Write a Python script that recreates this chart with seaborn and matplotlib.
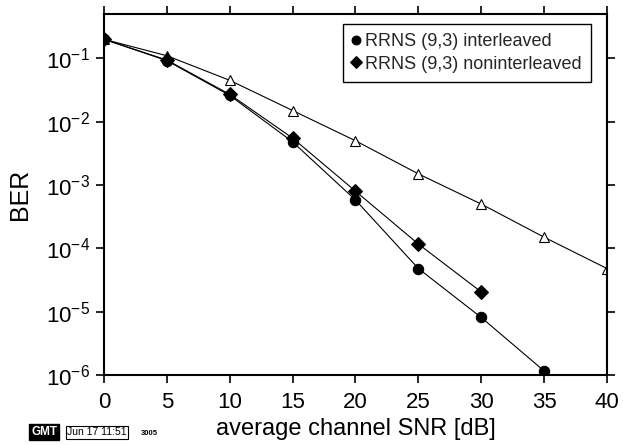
import matplotlib
matplotlib.use("Agg")
import matplotlib.pyplot as plt
import seaborn as sns
import numpy as np

sns.set_theme(style="ticks")
plt.rcParams['font.family'] = ['Liberation Sans', 'DejaVu Sans']
plt.rcParams['mathtext.fontset'] = 'custom'
plt.rcParams['mathtext.rm'] = 'Liberation Sans'
plt.rcParams['axes.unicode_minus'] = False

snr = [0, 5, 10, 15, 20, 25, 30, 35, 40]
ber_uncoded = [0.2, 0.11, 0.045, 0.015, 0.005, 0.0015, 0.0005, 0.00015, 0.000048]
snr_inter = [0, 5, 10, 15, 20, 25, 30, 35]
ber_inter = [0.2, 0.092, 0.026, 0.0048, 0.00058, 0.000048, 0.0000081, 0.00000116]
snr_noninter = [0, 5, 10, 15, 20, 25, 30]
ber_noninter = [0.2, 0.094, 0.027, 0.0055, 0.0008, 0.000117, 0.0000205]

label_inter = "RRNS (9,3) interleaved"
label_noninter = "RRNS (9,3) noninterleaved"

fig = plt.figure(figsize=(6.23, 4.45), dpi=100)
ax = fig.add_axes([0.1669, 0.1573, 0.8074, 0.8112])

sns.lineplot(x=snr, y=ber_uncoded, ax=ax, color='black', lw=0.8, marker='^',
             markersize=7, markerfacecolor='white', markeredgecolor='black',
             markeredgewidth=0.8, label='_nolegend_')
sns.lineplot(x=snr_inter, y=ber_inter, ax=ax, color='black', lw=0.8, marker='o',
             markersize=7.5, markerfacecolor='black', markeredgecolor='black',
             label=label_inter)
sns.lineplot(x=snr_noninter, y=ber_noninter, ax=ax, color='black', lw=0.8, marker='D',
             markersize=7.5, markerfacecolor='black', markeredgecolor='black',
             label=label_noninter)

ax.set_yscale('log')
ax.set_xlim(0, 40)
ax.set_ylim(1e-6, 10**-0.3)
ax.set_xticks([0, 5, 10, 15, 20, 25, 30, 35, 40])
ax.set_yticks([1e-6, 1e-5, 1e-4, 1e-3, 1e-2, 1e-1])
ax.yaxis.set_minor_locator(matplotlib.ticker.NullLocator())
ax.tick_params(axis='both', which='major', direction='out', length=6, width=1.2,
               color='black', labelsize=16, labelcolor='black',
               top=True, right=True, labeltop=False, labelright=False)
ax.tick_params(axis='x', pad=6)
ax.tick_params(axis='y', pad=4)
for s in ax.spines.values():
    s.set_color('black')
    s.set_linewidth(1.5)
    s.set_visible(True)

ax.set_xlabel("average channel SNR [dB]", fontsize=17, color='black', labelpad=4)
ax.set_ylabel("BER", fontsize=18, color='black', labelpad=10)

leg = ax.legend(loc='upper right', fontsize=13, frameon=True, fancybox=False,
                edgecolor='black', framealpha=1, handlelength=0.5, handletextpad=0.25,
                borderpad=0.5, labelspacing=0.3, markerscale=0.85,
                bbox_to_anchor=(0.968, 0.972), borderaxespad=0)
leg.get_frame().set_linewidth(1.0)
for h in leg.legend_handles:
    h.set_linestyle('None')

# GMT timestamp
fig.text(0.050, 0.022, "GMT", fontsize=8.5, color='white', fontweight='bold',
         bbox=dict(boxstyle='square,pad=0.15', fc='black', ec='black'))
fig.text(0.108, 0.022, "Jun 17 11:51", fontsize=7.5, color='black',
         bbox=dict(boxstyle='square,pad=0.15', fc='white', ec='black', lw=0.8))
fig.text(0.226, 0.022, "3005", fontsize=5.5, color='black', fontweight='bold')

fig.savefig("out.png", dpi=100)
